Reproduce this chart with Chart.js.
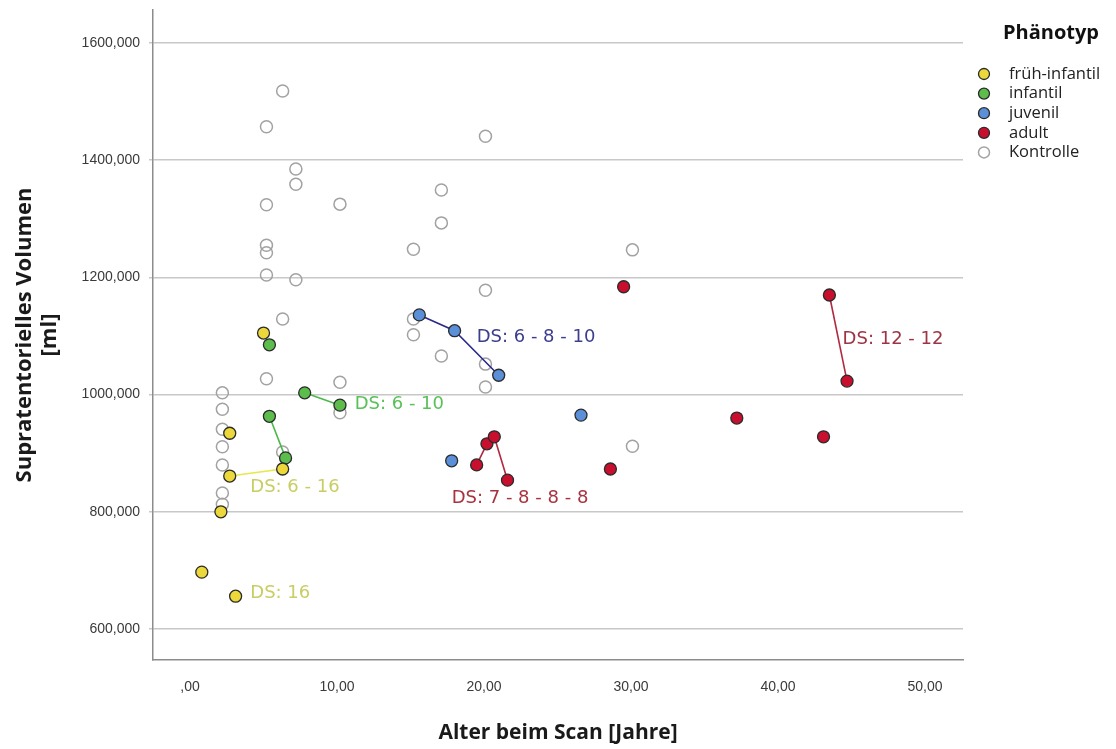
<!DOCTYPE html>
<html>
<head>
<meta charset="utf-8">
<script src="https://cdn.jsdelivr.net/npm/chart.js@4"></script>
<style>
  html, body { margin: 0; padding: 0; background: #fff; }
</style>
</head>
<body>
<canvas id="scanChart" width="1116" height="749"></canvas>
<script>
// Alter beim Scan [Jahre] / supratentorielles Volumen [ml] je Phänotyp
const fruehAge = [5.0, 2.7, 2.7, 6.3, 2.1, 0.8, 3.1];
const fruehVol = [1105, 934, 861, 873, 800, 697, 656];
const infantilAge = [5.4, 7.8, 10.2, 5.4, 6.5];
const infantilVol = [1085, 1003, 982, 963, 892];
const juvenilAge = [15.6, 18.0, 21.0, 26.6, 17.8];
const juvenilVol = [1136, 1109, 1033, 965, 887];
const adultAge = [29.5, 43.5, 44.7, 37.2, 43.1, 19.5, 20.2, 20.7, 21.6, 28.6];
const adultVol = [1184, 1170, 1023, 960, 928, 880, 916, 928, 854, 873];
const kontrolleAge = [6.3, 5.2, 7.2, 7.2, 5.2, 10.2, 5.2, 5.2, 5.2, 7.2, 6.3, 5.2, 10.2, 10.2,
  2.2, 2.2, 2.2, 2.2, 2.2, 2.2, 2.2, 6.3, 20.1, 17.1, 17.1, 15.2, 30.1, 20.1, 15.2, 15.2,
  17.1, 20.1, 20.1, 30.1];
const kontrolleVol = [1518, 1457, 1385, 1359, 1324, 1325, 1255, 1242, 1204, 1196, 1129, 1027, 1021, 969,
  1003, 975, 941, 911, 880, 832, 813, 902, 1441, 1349, 1293, 1248, 1247, 1178, 1129, 1102,
  1066, 1052, 1013, 912];

// Verlaufsmessungen desselben Patienten (Indizes in die Arrays oben)
const fruehLinks = [[2, 3]];
const infantilLinks = [[1, 2], [3, 4]];
const juvenilLinks = [[0, 1, 2]];
const adultLinks = [[5, 6, 7, 8], [1, 2]];

const xTicks = [0, 10, 20, 30, 40, 50];
const yTicks = [600, 800, 1000, 1200, 1400, 1600];
const dsTexts = ['DS: 16', 'DS: 6 - 16', 'DS: 6 - 10', 'DS: 6 - 8 - 10', 'DS: 7 - 8 - 8 - 8', 'DS: 12 - 12'];

// where the DS notes sit (data units) and their colours
const dsPlacement = [
  { x: 4.1, y: 661, color: '#c9cd62' },
  { x: 4.1, y: 842, color: '#c9cd62' },
  { x: 11.2, y: 984, color: '#58c158' },
  { x: 19.5, y: 1098, color: '#3d3d8e' },
  { x: 17.8, y: 823, color: '#a8333f' },
  { x: 44.4, y: 1095, color: '#9e3344' }
];

const groups = [
  { label: 'früh-infantil', age: fruehAge, vol: fruehVol, links: fruehLinks, fill: '#ecd83a', line: '#e6e84c' },
  { label: 'infantil', age: infantilAge, vol: infantilVol, links: infantilLinks, fill: '#5cbd4c', line: '#4cb84c' },
  { label: 'juvenil', age: juvenilAge, vol: juvenilVol, links: juvenilLinks, fill: '#5b8fd8', line: '#2b2b8c' },
  { label: 'adult', age: adultAge, vol: adultVol, links: adultLinks, fill: '#c8102e', line: '#b02a40' }
];

function toPoints(age, vol) {
  return age.map((x, i) => ({ x: x, y: vol[i] }));
}

const datasets = [];
groups.forEach(g => {
  datasets.push({
    label: g.label,
    data: toPoints(g.age, g.vol),
    backgroundColor: g.fill,
    borderColor: '#2b2b2b',
    borderWidth: 1.3,
    pointRadius: 6,
    order: 0
  });
  g.links.forEach(idx => {
    datasets.push({
      label: g.label + ' Verlauf',
      data: idx.map(i => ({ x: g.age[i], y: g.vol[i] })),
      showLine: true,
      borderColor: g.line,
      borderWidth: 1.6,
      pointRadius: 0,
      order: 1
    });
  });
});
datasets.push({
  label: 'Kontrolle',
  data: toPoints(kontrolleAge, kontrolleVol),
  backgroundColor: 'rgba(0,0,0,0)',
  borderColor: '#a2a2a2',
  borderWidth: 1.5,
  pointRadius: 6,
  order: 2
});

// DS notes next to the patients
const dsNotes = {
  id: 'dsNotes',
  afterDatasetsDraw(chart) {
    const ctx = chart.ctx;
    const xs = chart.scales.x, ys = chart.scales.y;
    ctx.save();
    ctx.font = '18px "DejaVu Sans"';
    ctx.textAlign = 'left';
    ctx.textBaseline = 'middle';
    dsTexts.forEach((t, i) => {
      const p = dsPlacement[i];
      ctx.fillStyle = p.color;
      ctx.fillText(t, xs.getPixelForValue(p.x), ys.getPixelForValue(p.y));
    });
    ctx.restore();
  }
};

// legend on the right, SPSS style
const phaenoLegend = {
  id: 'phaenoLegend',
  afterDraw(chart) {
    const ctx = chart.ctx;
    ctx.save();
    ctx.fillStyle = '#111';
    ctx.font = 'bold 20px "Open Sans"';
    ctx.textAlign = 'center';
    ctx.textBaseline = 'middle';
    ctx.fillText('Phänotyp', 1051, 33);
    const items = groups.map(g => ({ label: g.label, fill: g.fill, stroke: '#2b2b2b' }));
    items.push({ label: 'Kontrolle', fill: null, stroke: '#a2a2a2' });
    ctx.font = '16.5px "Open Sans"';
    ctx.textAlign = 'left';
    items.forEach((it, i) => {
      const y = 74 + i * 19.6;
      ctx.beginPath();
      ctx.arc(984, y, 5.5, 0, Math.PI * 2);
      if (it.fill) { ctx.fillStyle = it.fill; ctx.fill(); }
      ctx.lineWidth = it.fill ? 1.3 : 1.5;
      ctx.strokeStyle = it.stroke;
      ctx.stroke();
      ctx.fillStyle = '#222';
      ctx.fillText(it.label, 1009, y);
    });
    ctx.restore();
  }
};

const tickFont = { family: '"Liberation Sans", Arial, sans-serif', size: 14 };

new Chart(document.getElementById('scanChart').getContext('2d'), {
  type: 'scatter',
  data: { datasets: datasets },
  options: {
    responsive: false,
    animation: false,
    layout: { padding: { left: 0, right: 153, top: 10, bottom: 0 } },
    plugins: {
      legend: { display: false },
      tooltip: { enabled: false }
    },
    scales: {
      x: {
        type: 'linear',
        min: -2.52,
        max: 52.59,
        afterBuildTicks: s => { s.ticks = xTicks.map(v => ({ value: v })); },
        afterFit: s => { s.height = 89; s.paddingLeft = 0; s.paddingRight = 0; },
        grid: { color: 'rgba(0,0,0,0)', drawTicks: false },
        border: { color: '#8c8c8c', width: 1.5 },
        ticks: {
          padding: 19,
          color: '#3a3a3a',
          font: tickFont,
          callback: v => v === 0 ? ',00' : v.toFixed(2).replace('.', ',')
        },
        title: {
          display: true,
          text: 'Alter beim Scan [Jahre]',
          color: '#1a1a1a',
          font: { family: '"Open Sans", sans-serif', size: 21, weight: 'bold' },
          padding: { top: 0, bottom: 3 }
        }
      },
      y: {
        type: 'linear',
        min: 547.1,
        max: 1656.3,
        afterBuildTicks: s => { s.ticks = yTicks.map(v => ({ value: v })); },
        afterFit: s => { s.width = 153; s.paddingTop = 0; s.paddingBottom = 0; },
        grid: { color: '#c8c8c8', lineWidth: 1.5, tickLength: 4 },
        border: { color: '#8c8c8c', width: 1.5 },
        ticks: {
          padding: 9,
          color: '#3a3a3a',
          font: tickFont,
          callback: v => v.toFixed(3).replace('.', ',')
        },
        title: {
          display: true,
          text: ['Supratentorielles Volumen', '[ml]'],
          color: '#1a1a1a',
          font: { family: '"Open Sans", sans-serif', size: 22, weight: 'bold', lineHeight: 1.14 },
          padding: { top: 12, bottom: 0 }
        }
      }
    }
  },
  plugins: [dsNotes, phaenoLegend]
});
</script>
</body>
</html>
